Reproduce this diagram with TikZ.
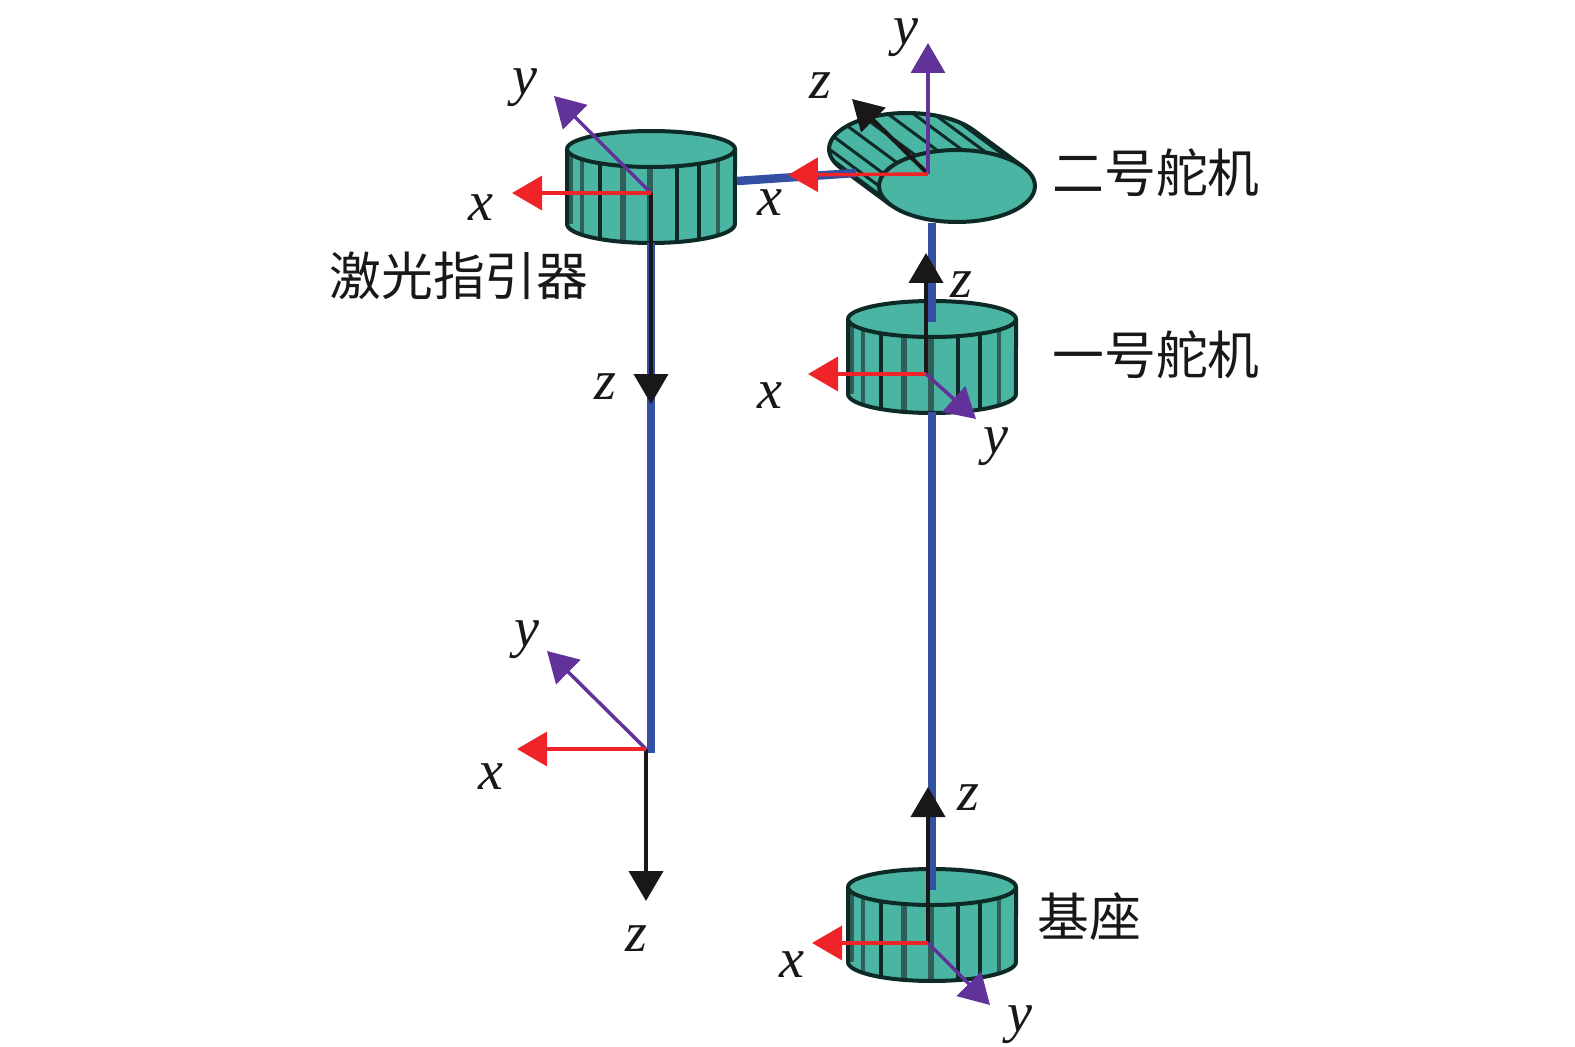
\documentclass[tikz,border=0pt]{standalone}
\usepackage{fontspec}
\setmainfont{Liberation Serif}
\newfontfamily\cjk{Noto Sans CJK SC}
\usetikzlibrary{arrows.meta}
\definecolor{cyl}{HTML}{4BB5A3}
\definecolor{cyledge}{HTML}{0E2A26}
\definecolor{cylgray}{HTML}{2F5F58}
\definecolor{rod}{HTML}{3450A3}
\definecolor{axred}{HTML}{EE2429}
\definecolor{axpurple}{HTML}{62329B}
\definecolor{axblack}{HTML}{1A1718}
\tikzset{
  rodline/.style={draw=rod,line width=0.17cm},
  axhead/.style={-{Triangle[length=0.6cm,width=0.68cm]}},
  axisx/.style={axhead,draw=axred,line width=0.07cm,-{Triangle[length=0.6cm,width=0.68cm,color=axred]}},
  axisy/.style={axhead,draw=axpurple,line width=0.07cm,-{Triangle[length=0.6cm,width=0.68cm,color=axpurple]}},
  axisz/.style={axhead,draw=axblack,line width=0.08cm,-{Triangle[length=0.6cm,width=0.68cm,color=axblack]}},
  axlabel/.style={inner sep=0pt,yshift=-0.1cm,font=\fontsize{32}{32}\selectfont\itshape,text=axblack},
  cnlabel/.style={inner sep=0pt,font=\fontsize{29.5}{29.5}\selectfont\cjk,text=axblack},
  cyloutline/.style={draw=cyledge,line width=0.08cm},
}
% #1 centre x, #2 top-ellipse centre y, #3 bottom-ellipse centre y (px)
\newcommand{\drumbody}[3]{%
  \fill[cyl] (#1-84,#2) -- (#1-84,#3) arc[start angle=180,end angle=360,x radius=1.68cm,y radius=0.38cm] -- (#1+84,#2) -- cycle;
  \foreach \dx/\wd/\cc in {-69/0.08/cylgray,-51/0.08/cyledge,-28/0.11/cylgray,-1/0.11/cylgray,26/0.08/cyledge,48/0.08/cyledge,67/0.08/cylgray}{
    \pgfmathsetmacro{\ddy}{sqrt(1-(\dx/84)^2)}
    \draw[draw=\cc,line width=\wd cm] (#1+\dx,{#2+18*\ddy}) -- (#1+\dx,{#3+19*\ddy});
  }
  \draw[cylgray,line width=0.14cm] (#1-82,#2) -- (#1-82,#3);
  \draw[cyloutline] (#1-84,#2) -- (#1-84,#3) arc[start angle=180,end angle=360,x radius=1.68cm,y radius=0.38cm] -- (#1+84,#2);
  \draw[cyloutline,fill=cyl] (#1,#2) ellipse[x radius=1.68cm,y radius=0.36cm];
}
\begin{document}
\begin{tikzpicture}[x=0.02cm,y=-0.02cm]
\useasboundingbox (0,0) rectangle (1575,1047);

% drums
\drumbody{651}{149}{224}
\drumbody{932}{319}{394}
\drumbody{932}{887}{962}

% second servo (tilted drum)
\def\fx{957}\def\fy{186}\def\bx{907}\def\by{149}
\path[fill=cyl] ({\fx+78*cos(32)},{\fy-36*sin(32)}) -- ({\bx+78*cos(32)},{\by-36*sin(32)})
   arc[start angle=32,end angle=212,x radius=1.56cm,y radius=0.72cm]
   -- ({\fx+78*cos(212)},{\fy-36*sin(212)}) -- cycle;
\foreach \a in {48,68,86,104,122,140,160,180,198}{
  \draw[cyledge,line width=0.06cm] ({\bx+78*cos(\a)},{\by-36*sin(\a)}) -- ({\fx+78*cos(\a)},{\fy-36*sin(\a)});
}
\draw[cyloutline] ({\fx+78*cos(32)},{\fy-36*sin(32)}) -- ({\bx+78*cos(32)},{\by-36*sin(32)})
   arc[start angle=32,end angle=212,x radius=1.56cm,y radius=0.72cm]
   -- ({\fx+78*cos(212)},{\fy-36*sin(212)});
\draw[cyloutline,fill=cyl] (\fx,\fy) ellipse[x radius=1.56cm,y radius=0.72cm];

% rod end points
\coordinate (r1a) at (932,223);
\coordinate (r1b) at (932,322);
\coordinate (r2a) at (932,412);
\coordinate (r2b) at (932,890);
\coordinate (r3a) at (651,243);
\coordinate (r3b) at (651,753);
\coordinate (r4a) at (737,181);
\coordinate (r4b) at (856,173);
\draw[rodline] (r1a) -- (r1b);
\draw[rodline] (r2a) -- (r2b);
\draw[rodline] (r3a) -- (r3b);
\draw[rodline] (r4a) -- (r4b);

% frames: origin and arrow tips
\coordinate (oL) at (651,193); \coordinate (xL) at (512,193); \coordinate (yL) at (554,96);  \coordinate (zL) at (651,404);
\coordinate (oS) at (928,174); \coordinate (xS) at (788,175); \coordinate (yS) at (928,43);  \coordinate (zS) at (852,99);
\coordinate (oO) at (926,374); \coordinate (xO) at (808,374); \coordinate (yO) at (976,419); \coordinate (zO) at (926,253);
\coordinate (oB) at (928,943); \coordinate (xB) at (812,943); \coordinate (yB) at (990,1005);\coordinate (zB) at (928,787);
\coordinate (oE) at (646,749); \coordinate (xE) at (517,749); \coordinate (yE) at (547,651); \coordinate (zE) at (646,901);

\foreach \f in {L,S,O,B,E}{
  \draw[axisz] (o\f) -- (z\f);
  \draw[axisy] (o\f) -- (y\f);
  \draw[axisx] (o\f) -- (x\f);
}

% axis labels
\node[axlabel] (lxL) at (481,203) {x};
\node[axlabel] (lyL) at (525,83) {y};
\node[axlabel] (lzL) at (605,382) {z};
\node[axlabel] (lxS) at (770,198) {x};
\node[axlabel] (lyS) at (906,33) {y};
\node[axlabel] (lzS) at (820,81) {z};
\node[axlabel] (lxO) at (770,391) {x};
\node[axlabel] (lyO) at (996,442) {y};
\node[axlabel] (lzO) at (961,280) {z};
\node[axlabel] (lxB) at (792,960) {x};
\node[axlabel] (lyB) at (1020,1020) {y};
\node[axlabel] (lzB) at (968,793) {z};
\node[axlabel] (lxE) at (491,772) {x};
\node[axlabel] (lyE) at (527,635) {y};
\node[axlabel] (lzE) at (636,934) {z};

% names
\node[cnlabel] (n2) at (1156,173) {二号舵机};
\node[cnlabel] (n1) at (1156,355) {一号舵机};
\node[cnlabel] (n0) at (1089,917) {基座};
\node[cnlabel] (nl) at (459,276) {激光指引器};
\end{tikzpicture}
\end{document}
